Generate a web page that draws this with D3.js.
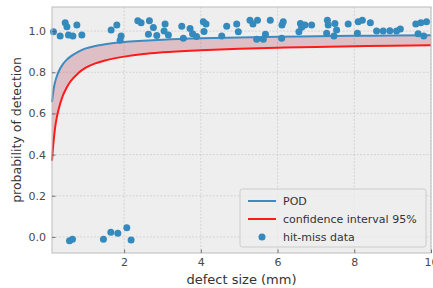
<!DOCTYPE html>
<html><head><meta charset="utf-8">
<script src="https://cdn.jsdelivr.net/npm/d3@7"></script>
<style>
html,body{margin:0;padding:0;background:#fff;}
svg{display:block;font-family:"DejaVu Sans",sans-serif;}
</style></head>
<body>
<svg id="c" width="433" height="288"></svg>
<script>
// ---- data ----
const podX   = [0.12,0.16,0.2,0.25,0.3,0.4,0.5,0.6,0.8,1.0,1.25,1.5,2,2.5,3,4,5,6,7,8,9,10];
const podY   = [0.655,0.715,0.752,0.783,0.806,0.838,0.86,0.876,0.899,0.916,0.928,0.936,0.947,0.953,0.958,0.965,0.969,0.972,0.975,0.977,0.978,0.98];
const ciX    = [0.12,0.14,0.17,0.2,0.25,0.3,0.4,0.5,0.6,0.8,1.0,1.25,1.5,2,2.5,3,4,5,6,7,8,9,10];
const ciY    = [0.37,0.42,0.48,0.53,0.585,0.625,0.685,0.725,0.755,0.795,0.822,0.843,0.857,0.876,0.889,0.897,0.907,0.914,0.919,0.923,0.926,0.929,0.931];
const hitX   = [0.159,0.464,0.508,0.333,0.549,0.664,0.768,0.898,1.661,1.810,1.922,1.896,2.357,2.443,2.659,2.763,2.633,2.852,3.068,3.042,3.154,3.503,3.544,3.719,3.784,3.888,4.065,4.135,4.083,4.544,4.674,4.935,4.977,5.281,5.359,5.477,5.456,5.628,5.685,5.810,6.115,6.148,6.107,6.596,6.628,6.557,6.714,6.888,7.299,7.320,7.279,7.495,7.539,7.469,7.841,8.102,8.211,8.081,8.419,8.581,8.753,8.927,9.102,9.201,9.604,9.734,9.883,9.664,9.812];
const hitY   = [0.997,1.040,1.021,0.976,0.981,0.976,1.029,0.981,1.005,1.029,0.976,0.956,1.050,1.040,1.050,1.017,0.985,0.978,1.034,1.001,0.981,1.024,0.965,1.013,0.987,0.974,1.045,1.034,0.998,0.976,1.024,1.034,0.997,1.053,1.034,1.053,0.960,0.960,0.985,1.053,1.029,1.045,0.965,1.037,1.019,0.997,1.029,1.029,1.053,1.029,0.989,1.037,1.005,0.976,1.035,1.045,1.053,0.989,1.040,1.000,1.000,1.002,1.000,1.010,1.034,1.041,1.045,0.987,0.976];
const missX  = [0.576,0.654,1.461,1.654,1.836,2.070,2.182];
const missY  = [-0.018,-0.011,-0.011,0.023,0.018,0.045,-0.015];
const xTicks = [2,4,6,8,10];
const yTicks = [0.0,0.2,0.4,0.6,0.8,1.0];
const legendLabels = ["POD","confidence interval 95%","hit-miss data"];
const xLabel = "defect size (mm)";
const yLabel = "probability of detection";

// ---- layout ----
const L=52, R=431, T=7, B=253;
const svg = d3.select("#c");
const x = d3.scaleLinear().domain([0.12,10]).range([L,R]);
const y = d3.scaleLinear().domain([-0.078,1.117]).range([B,T]);

svg.append("rect").attr("x",L).attr("y",T).attr("width",R-L).attr("height",B-T).attr("fill","#eeeeee");

// grid
const g = svg.append("g");
g.selectAll(".gx").data(xTicks).join("line")
 .attr("x1",d=>x(d)).attr("x2",d=>x(d)).attr("y1",T).attr("y2",B)
 .attr("stroke","#c8c8c8").attr("stroke-width",0.7).attr("stroke-dasharray","2,1.5");
g.selectAll(".gy").data(yTicks).join("line")
 .attr("y1",d=>y(d)).attr("y2",d=>y(d)).attr("x1",L).attr("x2",R)
 .attr("stroke","#c8c8c8").attr("stroke-width",0.7).attr("stroke-dasharray","2,1.5");

const plot = svg.append("g");
const pod = podX.map((v,i)=>[v,podY[i]]);
const ci  = ciX.map((v,i)=>[v,ciY[i]]);
const line = d3.line().x(d=>x(d[0])).y(d=>y(d[1])).curve(d3.curveMonotoneX);

// fill between: pod forward, ci reversed
const podPath = line(pod);
const ciRev = ci.slice().reverse();
const area = podPath + "L" + line(ciRev).slice(1) + "Z";
plot.append("path").attr("d",area).attr("fill","#A60628").attr("fill-opacity",0.2).attr("stroke","none");

plot.append("path").attr("d",podPath).attr("fill","none").attr("stroke","#3d8cc1").attr("stroke-width",2);
plot.append("path").attr("d",line(ci)).attr("fill","none").attr("stroke","#ff1a1a").attr("stroke-width",2);

// scatter
const pts = hitX.map((v,i)=>[v,hitY[i]]).concat(missX.map((v,i)=>[v,missY[i]]));
plot.selectAll("circle").data(pts).join("circle")
 .attr("cx",d=>x(d[0])).attr("cy",d=>y(d[1])).attr("r",3.5).attr("fill","#348ABD");

// frame
svg.append("rect").attr("x",L).attr("y",T).attr("width",R-L).attr("height",B-T)
 .attr("fill","none").attr("stroke","#bcbcbc").attr("stroke-width",1);

// axes
const xa = svg.append("g").attr("transform",`translate(0,${B})`)
 .call(d3.axisBottom(x).tickValues(xTicks).tickFormat(d3.format("d")).tickSizeInner(-3.5).tickSizeOuter(0).tickPadding(5));
const ya = svg.append("g").attr("transform",`translate(${L},0)`)
 .call(d3.axisLeft(y).tickValues(yTicks).tickFormat(d3.format(".1f")).tickSizeInner(-3.5).tickSizeOuter(0).tickPadding(6));
[xa,ya].forEach(a=>{
  a.select(".domain").remove();
  a.selectAll("line").attr("stroke","#555").attr("stroke-width",0.8);
  a.selectAll("text").attr("fill","#4a4a4a").style("font-size","11px").style("font-family","DejaVu Sans");
});

svg.append("text").attr("x",(L+R)/2).attr("y",284).attr("text-anchor","middle")
 .attr("fill","#333").style("font-size","13px").text(xLabel);
svg.append("text").attr("transform",`translate(21,${(T+B)/2}) rotate(-90)`).attr("text-anchor","middle")
 .attr("fill","#333").style("font-size","12.5px").text(yLabel);

// legend
const lg = svg.append("g");
lg.append("rect").attr("x",240).attr("y",189).attr("width",186).attr("height",58).attr("rx",2.5)
 .attr("fill","#eeeeee").attr("fill-opacity",0.8).attr("stroke","#cccccc").attr("stroke-width",1);
const rows=[201,219,237];
lg.append("line").attr("x1",248).attr("x2",276).attr("y1",rows[0]).attr("y2",rows[0]).attr("stroke","#3d8cc1").attr("stroke-width",2);
lg.append("line").attr("x1",248).attr("x2",276).attr("y1",rows[1]).attr("y2",rows[1]).attr("stroke","#ff1a1a").attr("stroke-width",2);
lg.append("circle").attr("cx",262).attr("cy",rows[2]).attr("r",3.5).attr("fill","#348ABD");
lg.selectAll("text").data(legendLabels).join("text")
 .attr("x",283).attr("y",(d,i)=>rows[i]+4).attr("fill","#333").style("font-size","11px").text(d=>d);
</script>
</body></html>
